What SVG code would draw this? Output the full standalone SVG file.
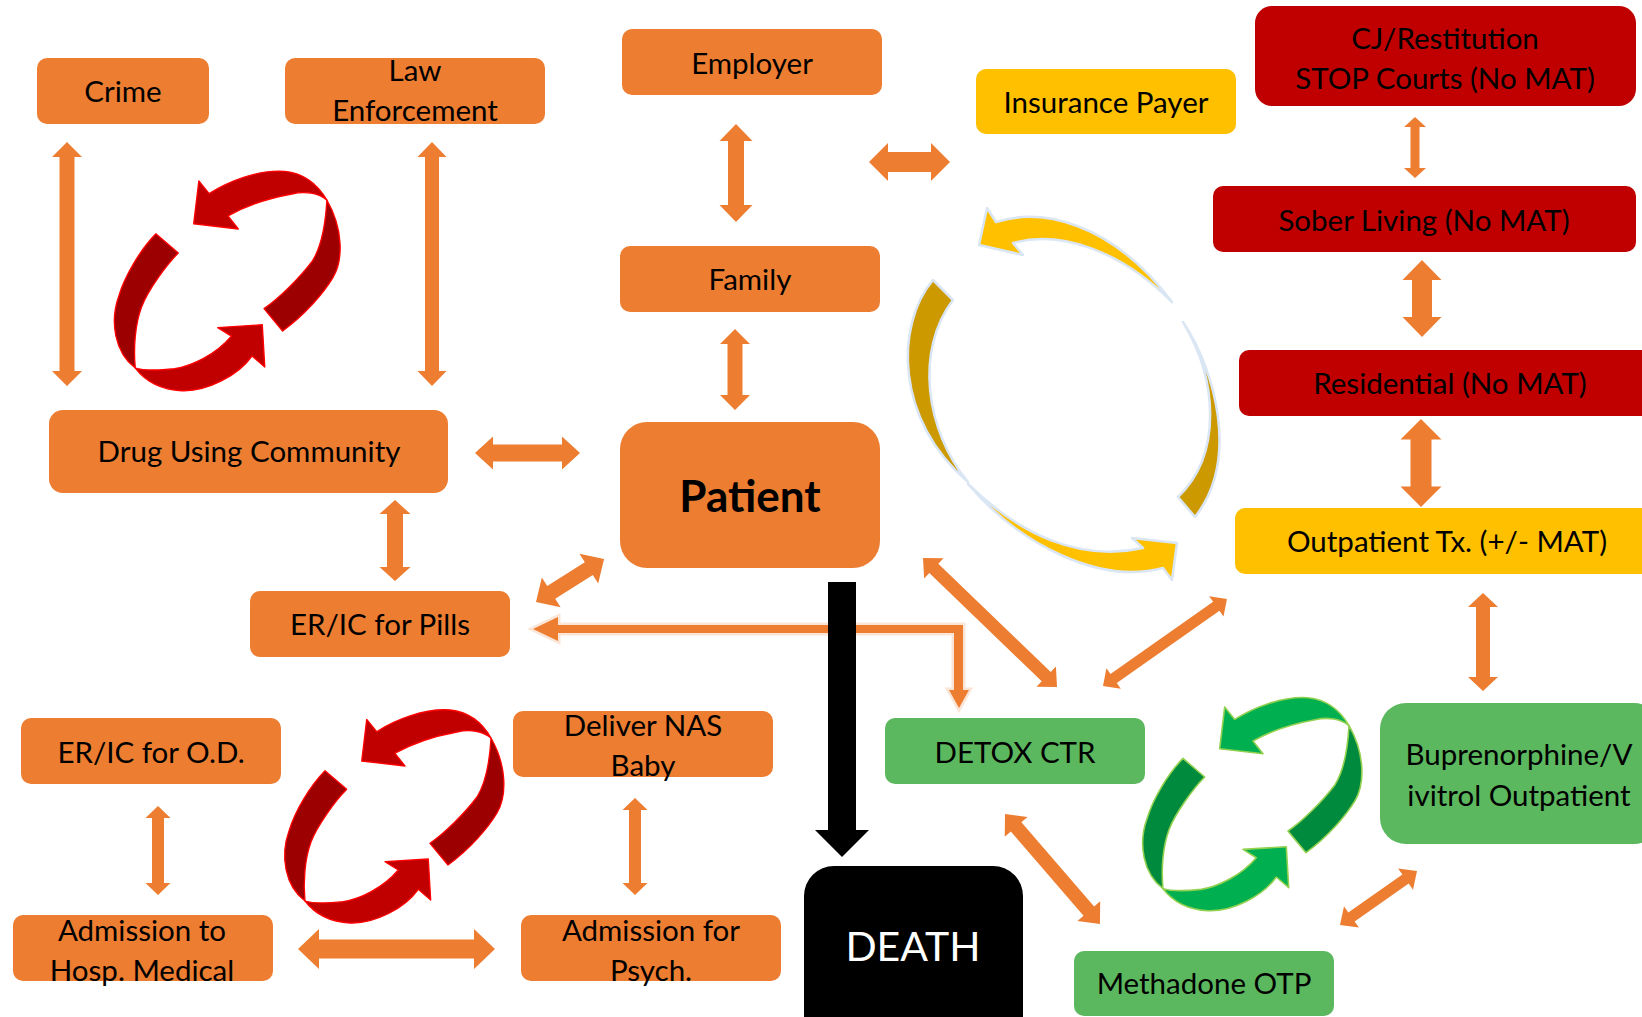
<svg xmlns="http://www.w3.org/2000/svg" xmlns:xlink="http://www.w3.org/1999/xlink" width="1642" height="1017" viewBox="0 0 1642 1017">
<style>
  .o{fill:#ED7D31}
  .y{fill:#FFC000}
  .r{fill:#C00000}
  .g{fill:#5CB85F}
  .k{fill:#000000}
  text{font-family:Lato,"Liberation Sans",sans-serif;font-size:29.5px;fill:#000;text-anchor:middle}
  .arr{fill:#ED7D31}
  .glow{fill:#ED7D31;stroke:#FBE5D6;stroke-width:5;paint-order:stroke;stroke-linejoin:miter}
  .redc{stroke:#FF0000;stroke-width:1.3;stroke-linejoin:round}
  .grnc{stroke:#92D050;stroke-width:1.6;stroke-linejoin:round}
  .yel{stroke:#DAE6F4;stroke-width:2.5;stroke-linejoin:round}
</style>
<defs>
  <path id="upBright" d="M -18.3,-84.3 C 0,-96 30,-108 55,-106 C 75,-104 88,-92 96,-78 C 88,-85 75,-87 62,-84 C 40,-80 18,-73 0,-62.7 L 10,-50 L -33.3,-55 L -28.3,-96.7 Z"/>
  <path id="upDark" d="M 96,-78 C 112,-50 112,-20 102,-3 C 93,12 75,33 53,49 L 35,27.3 C 50,17 70,-3 82,-19 C 92,-35 95,-60 96,-78 Z"/>
  <path id="loBright" d="M 23.3,73.3 C 10,92 -20,108 -45,107 C -65,106 -80,98 -90,85 C -80,88 -65,87 -52,85.7 C -35,83 -12,72 3.3,54 L -10,45.7 L 33.3,43 L 35.7,84 Z"/>
  <path id="loDark" d="M -90,85 C -110,70 -115,40 -106,15 C -100,-5 -85,-30 -70,-45.3 L -48.3,-26.7 C -60,-15 -78,10 -84,26 C -90,42 -92,65 -90,85 Z"/>
</defs>

<!-- cycle icons -->
<g id="cycle-red-1" class="redc" transform="translate(228,280.5) scale(1.03)">
  <use xlink:href="#upDark" fill="#9C0000"/>
  <use xlink:href="#upBright" fill="#C00000"/>
  <use xlink:href="#loDark" fill="#9C0000"/>
  <use xlink:href="#loBright" fill="#C00000"/>
</g>
<g id="cycle-red-2" class="redc" transform="translate(395,816)">
  <use xlink:href="#upDark" fill="#9C0000"/>
  <use xlink:href="#upBright" fill="#C00000"/>
  <use xlink:href="#loDark" fill="#9C0000"/>
  <use xlink:href="#loBright" fill="#C00000"/>
</g>
<g id="cycle-green" class="grnc" transform="translate(1253,803.7)">
  <use xlink:href="#upDark" fill="#008A3E"/>
  <use xlink:href="#upBright" fill="#00B050"/>
  <use xlink:href="#loDark" fill="#008A3E"/>
  <use xlink:href="#loBright" fill="#00B050"/>
</g>
<g id="cycle-yellow" class="yel">
  <path fill="#CC9900" d="M 1183,322 C 1215,370 1240,460 1195,517 L 1178,497 C 1222,455 1218,380 1183,322 Z"/>
  <path fill="#CC9900" d="M 933,280 C 895,325 895,420 968,482 C 925,430 915,350 953,300 Z"/>
  <path fill="#FFC000" d="M 996,222 C 1040,208 1110,220 1172,302 C 1120,250 1060,230 1013,243 L 1023,255 L 979,245 L 987,208 Z"/>
  <path fill="#FFC000" d="M 968,484 C 1020,545 1100,585 1163,568 L 1172,580 L 1177,543 L 1132,538 L 1143,548 C 1080,562 1020,535 968,484 Z"/>
</g>

<!-- connectors -->
<g id="connectors">
  <polygon class="arr" points="67,142 82,157 74.5,157 74.5,371 82,371 67,386 52,371 59.5,371 59.5,157 52,157"/>
  <polygon class="arr" points="432,142 446.5,157 439,157 439,371 446.5,371 432,386 417.5,371 425,371 425,157 417.5,157"/>
  <polygon class="arr" points="736,124 752.5,141 744,141 744,205 752.5,205 736,222 719.5,205 728,205 728,141 719.5,141"/>
  <polygon class="arr" points="735,329 750,344 742.5,344 742.5,395 750,395 735,410 720,395 727.5,395 727.5,344 720,344"/>
  <polygon class="arr" points="869,162 888,143 888,152 931,152 931,143 950,162 931,181 931,172 888,172 888,181"/>
  <polygon class="arr" points="475,453 493,436.5 493,444.5 562,444.5 562,436.5 580,453 562,469.5 562,461.5 493,461.5 493,469.5"/>
  <polygon class="arr" points="395,500 410.5,514 403,514 403,567 410.5,567 395,581 379.5,567 387,567 387,514 379.5,514"/>
  <polygon class="arr" transform="translate(536,602) rotate(-32.3)" points="0,0 18,-17.5 18,-7.5 62.5,-7.5 62.5,-17.5 80.5,0 62.5,17.5 62.5,7.5 18,7.5 18,17.5"/>
  <polygon class="glow" points="533,629 558,617 558,625 963,625 963,690 969,690 959,708 949,690 954,690 954,633 558,633 558,641"/>
  <polygon class="k" points="828,582 856,582 856,830 869,830 842,857 815,830 828,830"/>
  <polygon class="arr" transform="translate(923,558) rotate(43.9)" points="0,0 15,-14 15,-6.5 171,-6.5 171,-14 186,0 171,14 171,6.5 15,6.5 15,14"/>
  <polygon class="arr" transform="translate(1103,686) rotate(-35.1)" points="0,0 13,-12.5 13,-5.5 138.5,-5.5 138.5,-12.5 151.5,0 138.5,12.5 138.5,5.5 13,5.5 13,12.5"/>
  <polygon class="arr" transform="translate(1005,814) rotate(49.2)" points="0,0 17,-15 17,-7 128.3,-7 128.3,-15 145.3,0 128.3,15 128.3,7 17,7 17,15"/>
  <polygon class="arr" transform="translate(1340,925) rotate(-35)" points="0,0 14,-13 14,-5.5 80,-5.5 80,-13 94,0 80,13 80,5.5 14,5.5 14,13"/>
  <polygon class="arr" points="1483,593 1498,607 1490,607 1490,677 1498,677 1483,691 1468,677 1476,677 1476,607 1468,607"/>
  <polygon class="arr" points="1415,117 1426,127 1419.5,127 1419.5,168 1426,168 1415,178 1404,168 1410.5,168 1410.5,127 1404,127"/>
  <polygon class="arr" points="1422,260 1441.5,280 1432,280 1432,317 1441.5,317 1422,337 1402.5,317 1412,317 1412,280 1402.5,280"/>
  <polygon class="arr" points="1421,419 1441.5,439.5 1431.5,439.5 1431.5,486.5 1441.5,486.5 1421,507 1400.5,486.5 1410.5,486.5 1410.5,439.5 1400.5,439.5"/>
  <polygon class="arr" points="158,806 170.5,818 164,818 164,883 170.5,883 158,895 145.5,883 152,883 152,818 145.5,818"/>
  <polygon class="arr" points="635,798 647.5,810 641,810 641,883 647.5,883 635,895 622.5,883 629,883 629,810 622.5,810"/>
  <polygon class="arr" points="298,949 319,929 319,939.5 474,939.5 474,929 495,949 474,969 474,958.5 319,958.5 319,969"/>
</g>

<!-- nodes -->
<g id="crime"><rect class="o" x="37" y="58" width="172" height="66" rx="10"/><text x="123" y="102">Crime</text></g>
<g id="law-enforcement"><rect class="o" x="285" y="58" width="260" height="66" rx="10"/><text x="415" y="81">Law</text><text x="415" y="121">Enforcement</text></g>
<g id="employer"><rect class="o" x="622" y="29" width="260" height="66" rx="10"/><text x="752" y="74">Employer</text></g>
<g id="insurance-payer"><rect class="y" x="976" y="69" width="260" height="65" rx="10"/><text x="1106" y="113">Insurance Payer</text></g>
<g id="cj-restitution"><rect class="r" x="1255" y="6" width="381" height="100" rx="17"/><text x="1445" y="49">CJ/Restitution</text><text x="1445" y="89">STOP Courts (No MAT)</text></g>
<g id="sober-living"><rect class="r" x="1213" y="186" width="423" height="66" rx="10"/><text x="1424" y="231">Sober Living (No MAT)</text></g>
<g id="residential"><rect class="r" x="1239" y="350" width="423" height="66" rx="10"/><text x="1450" y="394">Residential (No MAT)</text></g>
<g id="family"><rect class="o" x="620" y="246" width="260" height="66" rx="10"/><text x="750" y="290">Family</text></g>
<g id="drug-using-community"><rect class="o" x="49" y="410" width="399" height="83" rx="14"/><text x="249" y="462">Drug Using Community</text></g>
<g id="patient"><rect class="o" x="620" y="422" width="260" height="146" rx="27"/><text x="750" y="512" style="font-weight:bold;font-size:44px">Patient</text></g>
<g id="outpatient"><rect class="y" x="1235" y="508" width="423" height="66" rx="10"/><text x="1447" y="552">Outpatient Tx. (+/- MAT)</text></g>
<g id="er-pills"><rect class="o" x="250" y="591" width="260" height="66" rx="10"/><text x="380" y="635">ER/IC for Pills</text></g>
<g id="er-od"><rect class="o" x="21" y="718" width="260" height="66" rx="10"/><text x="151" y="763">ER/IC for O.D.</text></g>
<g id="deliver-nas"><rect class="o" x="513" y="711" width="260" height="66" rx="10"/><text x="643" y="736">Deliver NAS</text><text x="643" y="776">Baby</text></g>
<g id="detox"><rect class="g" x="885" y="718" width="260" height="66" rx="10"/><text x="1015" y="763">DETOX CTR</text></g>
<g id="buprenorphine"><rect class="g" x="1380" y="703" width="280" height="141" rx="26"/><text x="1519" y="765">Buprenorphine/V</text><text x="1519" y="806">ivitrol Outpatient</text></g>
<g id="admission-hosp"><rect class="o" x="13" y="915" width="260" height="66" rx="10"/><text x="142" y="941">Admission to</text><text x="142" y="981">Hosp. Medical</text></g>
<g id="admission-psych"><rect class="o" x="521" y="915" width="260" height="66" rx="10"/><text x="651" y="941">Admission for</text><text x="651" y="981">Psych.</text></g>
<g id="death"><rect class="k" x="804" y="866" width="219" height="180" rx="30"/><text x="913" y="961" style="fill:#fff;font-size:41px">DEATH</text></g>
<g id="methadone"><rect class="g" x="1074" y="951" width="260" height="65" rx="10"/><text x="1204" y="994">Methadone OTP</text></g>
</svg>
